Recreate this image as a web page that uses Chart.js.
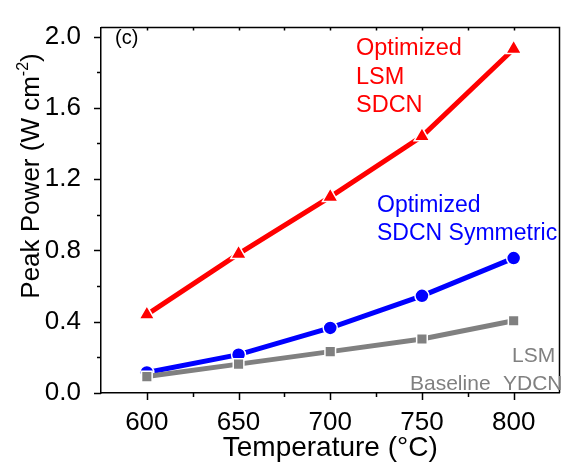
<!DOCTYPE html>
<html><head><meta charset="utf-8">
<script src="https://cdn.jsdelivr.net/npm/chart.js@4"></script>
<style>html,body{margin:0;padding:0;overflow:hidden;background:#fff}canvas{display:block}</style>
</head><body>
<canvas id="c" width="570" height="468" style="width:570px;height:468px"></canvas>
<script>
const temperatures = [600, 650, 700, 750, 800];
const optimizedLsmSdcn = [0.44, 0.78, 1.10, 1.44, 1.93];
const optimizedSdcnSymmetric = [0.115, 0.215, 0.365, 0.545, 0.757];
const baselineLsmYdcn = [0.092, 0.162, 0.232, 0.303, 0.405];
const xTickValues = [600, 650, 700, 750, 800];
const yTickValues = [0.0, 0.4, 0.8, 1.2, 1.6, 2.0];

const FONT = '"Liberation Sans", Arial, sans-serif';
const pts = arr => temperatures.map((t, i) => ({x: t, y: arr[i]}));

const framePlugin = {
  id: 'frame',
  afterDraw(chart) {
    const {ctx, chartArea: a, scales: {x, y}} = chart;
    ctx.save();
    ctx.strokeStyle = '#000';
    ctx.lineWidth = 1.5;
    ctx.beginPath();
    ctx.moveTo(a.left, a.top); ctx.lineTo(a.right, a.top); ctx.lineTo(a.right, a.bottom);
    ctx.stroke();
    for (let v = 600; v <= 800; v += 25) {
      const px = Math.round(x.getPixelForValue(v)) + 0.5;
      const major = v % 50 === 0;
      ctx.beginPath();
      ctx.moveTo(px, a.bottom); ctx.lineTo(px, a.bottom + (major ? 7 : 4));
      ctx.moveTo(px, a.top); ctx.lineTo(px, a.top + 3);
      ctx.stroke();
    }
    for (let k = 0; k <= 10; k++) {
      const py = Math.round(y.getPixelForValue(k * 0.2)) + 0.5;
      const major = k % 2 === 0;
      ctx.beginPath();
      ctx.moveTo(a.left, py); ctx.lineTo(a.left - (major ? 7 : 4), py);
      ctx.stroke();
    }
    ctx.translate(39, 176);
    ctx.rotate(-Math.PI / 2);
    ctx.fillStyle = '#000';
    ctx.textBaseline = 'alphabetic';
    const big = '26px ' + FONT, small = '16px ' + FONT;
    const p1 = 'Peak Power (W cm', p2 = '-2', p3 = ')';
    ctx.font = big; const w1 = ctx.measureText(p1).width, w3 = ctx.measureText(p3).width;
    ctx.font = small; const w2 = ctx.measureText(p2).width;
    let sx = -(w1 + w2 + w3) / 2;
    ctx.font = big; ctx.fillText(p1, sx, 0); sx += w1;
    ctx.font = small; ctx.fillText(p2, sx, -11); sx += w2;
    ctx.font = big; ctx.fillText(p3, sx, 0);
    ctx.restore();

    ctx.save();
    ctx.textBaseline = 'alphabetic';
    ctx.fillStyle = '#000';
    ctx.font = '20px ' + FONT;
    ctx.fillText('(c)', 115, 44);
    ctx.fillStyle = '#FF0000';
    ctx.font = '23.5px ' + FONT;
    ctx.fillText('Optimized', 356, 55);
    ctx.fillText('LSM', 356, 84);
    ctx.fillText('SDCN', 356, 112);
    ctx.fillStyle = '#0000FF';
    ctx.font = '23px ' + FONT;
    ctx.fillText('Optimized', 377, 212);
    ctx.fillText('SDCN Symmetric', 377, 240);
    ctx.fillStyle = '#808080';
    ctx.font = '21px ' + FONT;
    ctx.fillText('LSM', 512, 362);
    ctx.fillText('Baseline', 410, 390);
    ctx.fillText('YDCN', 503, 390);
    ctx.restore();
  }
};

new Chart(document.getElementById('c'), {
  type: 'scatter',
  data: {
    datasets: [
      {label: 'Baseline LSM YDCN', data: pts(baselineLsmYdcn), showLine: true,
       borderColor: '#808080', backgroundColor: '#808080', borderWidth: 5,
       pointStyle: 'rect', pointRadius: 7.5, pointBorderColor: '#fff', pointBorderWidth: 1.5},
      {label: 'Optimized SDCN Symmetric', data: pts(optimizedSdcnSymmetric), showLine: true,
       borderColor: '#0000FF', backgroundColor: '#0000FF', borderWidth: 5,
       pointStyle: 'circle', pointRadius: 7, pointBorderColor: '#fff', pointBorderWidth: 1.5},
      {label: 'Optimized LSM SDCN', data: pts(optimizedLsmSdcn), showLine: true,
       borderColor: '#FF0000', backgroundColor: '#FF0000', borderWidth: 5,
       pointStyle: 'triangle', pointRadius: 9, pointBorderColor: '#fff', pointBorderWidth: 1.5}
    ]
  },
  options: {
    responsive: false,
    animation: false,
    layout: {padding: {top: 14, right: 3, left: 0, bottom: 0}},
    plugins: {legend: {display: false}, tooltip: {enabled: false}},
    scales: {
      x: {
        type: 'linear', min: 575, max: 825,
        grid: {display: false},
        border: {display: true, color: '#000', width: 1.5},
        afterBuildTicks: s => { s.ticks = xTickValues.map(v => ({value: v})); },
        afterFit: s => { s.height = 75; },
        ticks: {color: '#000', font: {family: FONT, size: 26}, padding: 6, maxRotation: 0},
        title: {display: true, text: 'Temperature (°C)', color: '#000', font: {family: FONT, size: 28}, padding: {top: 0, bottom: 3}}
      },
      y: {
        type: 'linear', min: 0, max: 2.05,
        grid: {display: false},
        border: {display: true, color: '#000', width: 1.5},
        afterBuildTicks: s => { s.ticks = yTickValues.map(v => ({value: v})); },
        afterFit: s => { s.width = 101; },
        ticks: {color: '#000', font: {family: FONT, size: 26}, padding: 12, callback: v => v.toFixed(1)}
      }
    }
  },
  plugins: [framePlugin]
});
</script>
</body></html>
